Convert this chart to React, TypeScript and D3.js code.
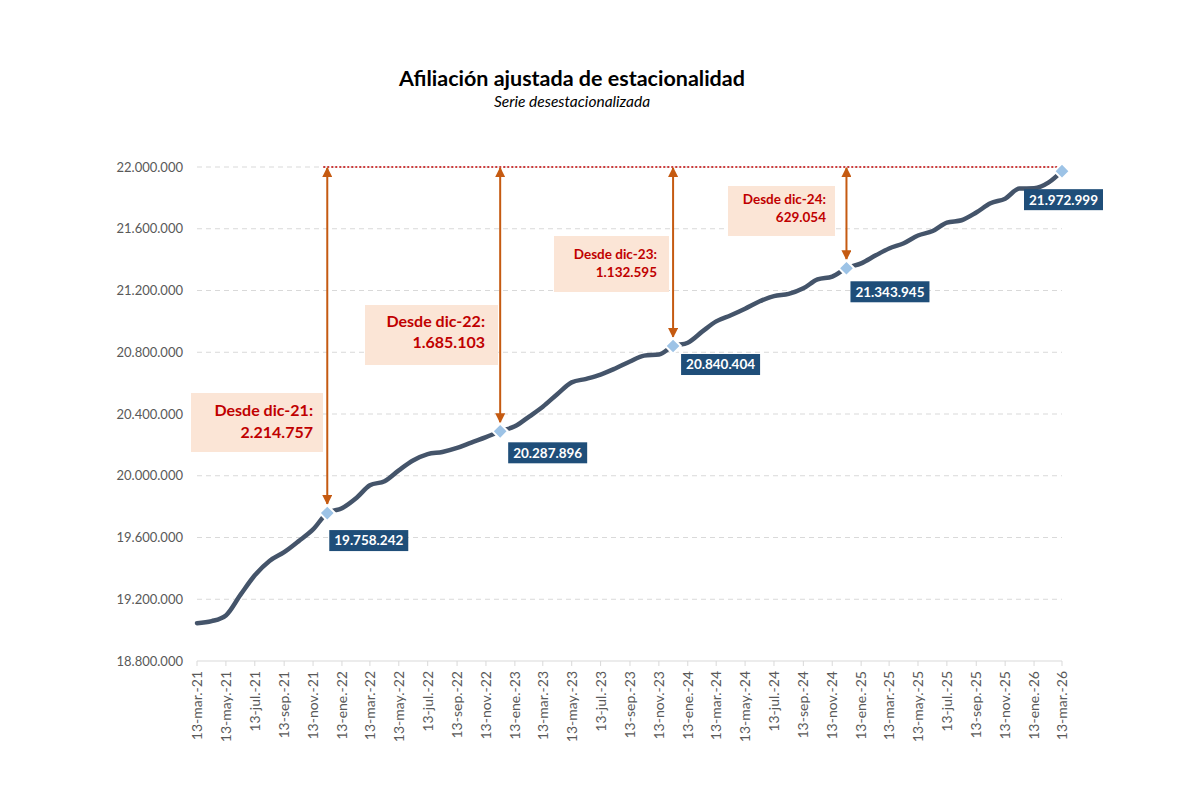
import React, { useRef, useEffect } from 'react';
import * as d3 from 'd3';

// monthly series (13th of each month), mar-21 .. mar-26
const values = [
  19045000, 19058000, 19095000, 19230000, 19355000, 19448000, 19505000, 19575000,
  19652000, 19758242, 19790000, 19858000, 19938000, 19965000, 20035000, 20100000,
  20140000, 20154000, 20180000, 20215000, 20250000, 20287896, 20320000, 20385000,
  20447000, 20530000, 20605000, 20628000, 20655000, 20695000, 20740000, 20778000,
  20785000, 20840404, 20862000, 20935000, 21000000, 21040000, 21082000, 21130000,
  21164000, 21178000, 21214000, 21272000, 21290000, 21343945, 21376000, 21428000,
  21472000, 21506000, 21556000, 21585000, 21640000, 21655000, 21705000, 21765000,
  21795000, 21860000, 21862000, 21900000, 21972999,
];

const tickLabels = [
  '13-mar.-21', '13-may.-21', '13-jul.-21', '13-sep.-21', '13-nov.-21',
  '13-ene.-22', '13-mar.-22', '13-may.-22', '13-jul.-22', '13-sep.-22', '13-nov.-22',
  '13-ene.-23', '13-mar.-23', '13-may.-23', '13-jul.-23', '13-sep.-23', '13-nov.-23',
  '13-ene.-24', '13-mar.-24', '13-may.-24', '13-jul.-24', '13-sep.-24', '13-nov.-24',
  '13-ene.-25', '13-mar.-25', '13-may.-25', '13-jul.-25', '13-sep.-25', '13-nov.-25',
  '13-ene.-26', '13-mar.-26',
];

const yTicks = [18800000, 19200000, 19600000, 20000000, 20400000, 20800000, 21200000, 21600000, 22000000];

// highlighted points (index in the series)
const markIdx = [9, 21, 33, 45, 60];
const sinceNames = ['dic-21', 'dic-22', 'dic-23', 'dic-24'];
const gains = ['2.214.757', '1.685.103', '1.132.595', '629.054'];

// layout of the annotation boxes (not data)
const gainBoxes = [
  { x: 191, y: 393, w: 132, h: 59, fs: 16, right: 313, l1: 416, l2: 438 },
  { x: 365, y: 305, w: 133, h: 60, fs: 16, right: 485, l1: 327, l2: 348 },
  { x: 554, y: 236, w: 115, h: 56, fs: 13.5, right: 657, l1: 259, l2: 277 },
  { x: 728, y: 186, w: 107, h: 50, fs: 13.5, right: 826, l1: 204, l2: 222 },
];
const labelOffsets = [[2, 17], [8, 11], [8, 8], [4, 13], [-38, 18]];

const FONT = "Lato, 'Open Sans', sans-serif";

const App: React.FC = () => {
  const svgRef = useRef<SVGSVGElement | null>(null);

  useEffect(() => {
    if (!svgRef.current) return;
    const svg = d3.select(svgRef.current);
    svg.selectAll('*').remove();

    const width = 1200;
    const height = 800;
    svg.attr('width', width).attr('height', height);

    const dates = values.map((_, i) => new Date(2021, 2 + i, 13));
    const x = d3.scaleTime().domain([dates[0], dates[dates.length - 1]]).range([197, 1062]);
    const y = d3.scaleLinear().domain([18800000, 22000000]).range([661, 167]);

    const locale = d3.formatLocale({ decimal: ',', thousands: '.', grouping: [3], currency: ['', ' €'] });
    const fmt = locale.format(',d');

    svg.append('rect').attr('width', width).attr('height', height).attr('fill', '#fff');

    // titles
    svg.append('text')
      .attr('x', 572).attr('y', 86)
      .attr('text-anchor', 'middle')
      .attr('font-family', FONT).attr('font-weight', 700).attr('font-size', 21.5)
      .attr('fill', '#000')
      .text('Afiliación ajustada de estacionalidad');
    svg.append('text')
      .attr('x', 572).attr('y', 107)
      .attr('text-anchor', 'middle')
      .attr('font-family', FONT).attr('font-style', 'italic').attr('font-size', 15.5)
      .attr('fill', '#000')
      .text('Serie desestacionalizada');

    // grid
    svg.append('g')
      .selectAll('line')
      .data(yTicks.slice(1))
      .join('line')
      .attr('x1', 197).attr('x2', 1062)
      .attr('y1', (d) => y(d)).attr('y2', (d) => y(d))
      .attr('stroke', '#d9d9d9').attr('stroke-width', 1)
      .attr('stroke-dasharray', '5,4');

    // y labels
    svg.append('g')
      .selectAll('text')
      .data(yTicks)
      .join('text')
      .attr('x', 183).attr('y', (d) => y(d))
      .attr('dy', '0.35em')
      .attr('text-anchor', 'end')
      .attr('font-family', FONT).attr('font-size', 13)
      .attr('fill', '#595959')
      .text((d) => fmt(d));

    // x axis
    const tickDates = tickLabels.map((_, i) => dates[i * 2]);
    svg.append('line')
      .attr('x1', 197).attr('x2', 1062)
      .attr('y1', y(18800000)).attr('y2', y(18800000))
      .attr('stroke', '#d9d9d9').attr('stroke-width', 1.2);
    svg.append('g')
      .selectAll('line')
      .data(tickDates)
      .join('line')
      .attr('x1', (d) => x(d)).attr('x2', (d) => x(d))
      .attr('y1', y(18800000)).attr('y2', y(18800000) + 5)
      .attr('stroke', '#d9d9d9');
    svg.append('g')
      .selectAll('text')
      .data(tickLabels)
      .join('text')
      .attr('transform', (_, i) => `translate(${x(tickDates[i])},${y(18800000) + 10}) rotate(-90)`)
      .attr('dy', '0.35em')
      .attr('text-anchor', 'end')
      .attr('font-family', FONT).attr('font-size', 14)
      .attr('fill', '#595959')
      .text((d) => d);

    // red dotted reference line at top
    svg.append('line')
      .attr('x1', x(dates[markIdx[0]]) - 4).attr('x2', x(dates[markIdx[4]]))
      .attr('y1', y(22000000)).attr('y2', y(22000000))
      .attr('stroke', '#c00000').attr('stroke-width', 1.3)
      .attr('stroke-dasharray', '2,2');

    // annotation boxes
    gainBoxes.forEach((b, i) => {
      const g = svg.append('g');
      g.append('rect')
        .attr('x', b.x).attr('y', b.y).attr('width', b.w).attr('height', b.h)
        .attr('fill', '#fbe5d6');
      g.append('text')
        .attr('x', b.right).attr('y', b.l1)
        .attr('text-anchor', 'end')
        .attr('font-family', FONT).attr('font-weight', 700).attr('font-size', b.fs)
        .attr('fill', '#c00000')
        .text(`Desde ${sinceNames[i]}:`);
      g.append('text')
        .attr('x', b.right).attr('y', b.l2)
        .attr('text-anchor', 'end')
        .attr('font-family', FONT).attr('font-weight', 700).attr('font-size', b.fs)
        .attr('fill', '#c00000')
        .text(gains[i]);
    });

    // arrow heads
    const defs = svg.append('defs');
    defs.append('marker')
      .attr('id', 'arrow')
      .attr('viewBox', '0 0 10 10')
      .attr('refX', 9).attr('refY', 5)
      .attr('markerWidth', 5).attr('markerHeight', 5)
      .attr('markerUnits', 'strokeWidth')
      .attr('orient', 'auto-start-reverse')
      .append('path')
      .attr('d', 'M0,0 L10,5 L0,10 z')
      .attr('fill', '#c55a11');

    svg.append('g')
      .selectAll('line')
      .data(markIdx.slice(0, 4))
      .join('line')
      .attr('x1', (d) => x(dates[d])).attr('x2', (d) => x(dates[d]))
      .attr('y1', y(22000000) + 1).attr('y2', (d) => y(values[d]) - 9)
      .attr('stroke', '#c55a11').attr('stroke-width', 2)
      .attr('marker-start', 'url(#arrow)')
      .attr('marker-end', 'url(#arrow)');

    // series line
    const line = d3.line<number>()
      .x((_, i) => x(dates[i]))
      .y((d) => y(d))
      .curve(d3.curveMonotoneX);
    svg.append('path')
      .datum(values)
      .attr('d', line)
      .attr('fill', 'none')
      .attr('stroke', '#44546a')
      .attr('stroke-width', 4.5)
      .attr('stroke-linejoin', 'round')
      .attr('stroke-linecap', 'round');

    // markers
    svg.append('g')
      .selectAll('path')
      .data(markIdx)
      .join('path')
      .attr('d', d3.symbol().type(d3.symbolSquare).size(120)() as string)
      .attr('transform', (d) => `translate(${x(dates[d])},${y(values[d])}) rotate(45)`)
      .attr('fill', '#9dc3e6')
      .attr('stroke', '#fff').attr('stroke-width', 2);

    // value labels
    markIdx.forEach((d, i) => {
      const px = x(dates[d]) + labelOffsets[i][0];
      const py = y(values[d]) + labelOffsets[i][1];
      const g = svg.append('g');
      g.append('rect')
        .attr('x', px).attr('y', py).attr('width', 79).attr('height', 21)
        .attr('fill', '#1f4e79');
      g.append('text')
        .attr('x', px + 39.5).attr('y', py + 10.5)
        .attr('dy', '0.36em')
        .attr('text-anchor', 'middle')
        .attr('font-family', FONT).attr('font-weight', 700).attr('font-size', 13.5)
        .attr('fill', '#fff')
        .text(fmt(values[d]));
    });
  }, []);

  return <svg ref={svgRef} style={{ position: 'absolute', left: 0, top: 0 }}></svg>;
};

export default App;
